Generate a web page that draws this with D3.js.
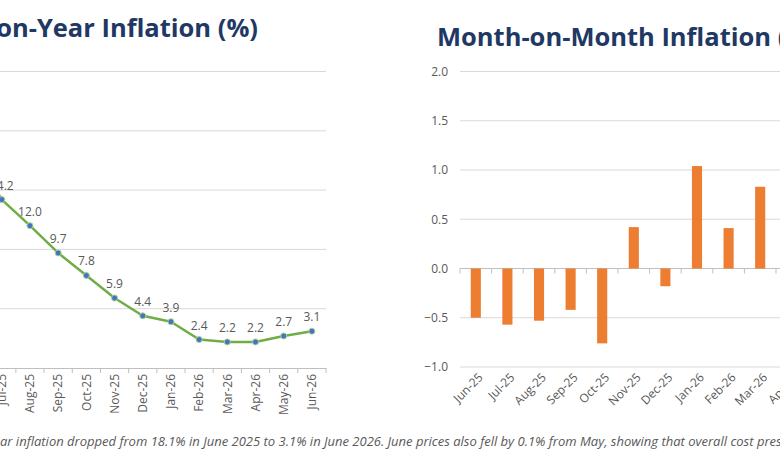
<!DOCTYPE html>
<html>
<head>
<meta charset="utf-8">
<script src="https://cdn.jsdelivr.net/npm/d3@7"></script>
<style>
  body { margin: 0; background: #fff; }
  svg { display: block; overflow: hidden; }
</style>
</head>
<body>
<div id="chart"></div>
<script>
var months = ["Jun-25", "Jul-25", "Aug-25", "Sep-25", "Oct-25", "Nov-25", "Dec-25",
  "Jan-26", "Feb-26", "Mar-26", "Apr-26", "May-26", "Jun-26"];
var yoyValues = [18.1, 14.2, 12.0, 9.7, 7.8, 5.9, 4.4, 3.9, 2.4, 2.2, 2.2, 2.7, 3.1];
var momValues = [-0.50, -0.57, -0.53, -0.42, -0.76, 0.42, -0.18, 1.04, 0.41, 0.83, 0.30, 0.50, -0.10];
var yoyTicks = [0, 5, 10, 15, 20, 25];
var momTicks = [-1.0, -0.5, 0.0, 0.5, 1.0, 1.5, 2.0];
var yoyTitle = "Year-on-Year Inflation (%)";
var momTitle = "Month-on-Month Inflation (%)";
var captionText = "Year-on-year inflation dropped from 18.1% in June 2025 to 3.1% in June 2026. June prices also fell by 0.1% from May, showing that overall cost pressures are easing.";

var svgWidth = 780;
var svgHeight = 470;

var gridColor = "#d9d9d9";
var axisColor = "#bfbfbf";
var textColor = "#595959";
var titleColor = "#1f3864";
var font = "'Open Sans', 'Noto Sans', sans-serif";

var svg = d3.select("#chart")
  .append("svg")
  .attr("width", svgWidth)
  .attr("height", svgHeight)
  .style("font-family", font);

// ---- left chart: year-on-year line ----
var yoyX = d3.scaleBand().domain(months).range([-40.5, 326]);
var yoyY = d3.scaleLinear().domain([0, 25]).range([368, 71.5]);

var left = svg.append("g");

left.selectAll("line.grid")
  .data(yoyTicks.slice(1))
  .enter()
  .append("line")
  .attr("class", "grid")
  .attr("x1", yoyX.range()[0])
  .attr("x2", yoyX.range()[1])
  .attr("y1", d => yoyY(d))
  .attr("y2", d => yoyY(d))
  .attr("stroke", gridColor)
  .attr("stroke-width", 1);

var yoyAxis = left.append("g")
  .attr("transform", `translate(0, ${yoyY(0)})`)
  .call(d3.axisBottom(yoyX).tickSize(0).tickSizeOuter(0));
yoyAxis.select(".domain").attr("stroke", axisColor);
yoyAxis.selectAll("text")
  .attr("fill", textColor)
  .style("font-size", "12px")
  .style("font-family", font)
  .attr("text-anchor", "end")
  .attr("transform", "rotate(-90)")
  .attr("x", -6)
  .attr("y", 0)
  .attr("dy", "0.35em");

left.selectAll("line.btick")
  .data(months.concat(["end"]))
  .enter()
  .append("line")
  .attr("class", "btick")
  .attr("x1", (d, i) => yoyX.range()[0] + i * yoyX.step())
  .attr("x2", (d, i) => yoyX.range()[0] + i * yoyX.step())
  .attr("y1", yoyY(0))
  .attr("y2", yoyY(0) + 5)
  .attr("stroke", axisColor);

var yoyPoints = months.map((m, i) => ({ month: m, value: yoyValues[i] }));

var line = d3.line()
  .x(d => yoyX(d.month) + yoyX.bandwidth() / 2)
  .y(d => yoyY(d.value));

left.append("path")
  .datum(yoyPoints)
  .attr("d", line)
  .attr("fill", "none")
  .attr("stroke", "#70ad47")
  .attr("stroke-width", 2.5)
  .attr("stroke-linejoin", "round");

left.selectAll("circle")
  .data(yoyPoints)
  .enter()
  .append("circle")
  .attr("cx", d => yoyX(d.month) + yoyX.bandwidth() / 2)
  .attr("cy", d => yoyY(d.value))
  .attr("r", 3)
  .attr("fill", "#4472c4")
  .attr("stroke", "#a9d18e")
  .attr("stroke-width", 1);

left.selectAll("text.lbl")
  .data(yoyPoints)
  .enter()
  .append("text")
  .attr("class", "lbl")
  .attr("x", d => yoyX(d.month) + yoyX.bandwidth() / 2)
  .attr("y", d => yoyY(d.value) - 10)
  .attr("text-anchor", "middle")
  .attr("fill", textColor)
  .style("font-size", "12px")
  .text(d => d.value.toFixed(1));

left.append("text")
  .attr("x", 258)
  .attr("y", 37)
  .attr("text-anchor", "end")
  .attr("fill", titleColor)
  .style("font-size", "25.5px")
  .style("font-weight", 700)
  .text(yoyTitle);

// ---- right chart: month-on-month bars ----
var momX = d3.scaleBand().domain(months).range([460, 460 + 13 * 31.6]);
var momY = d3.scaleLinear().domain([-1, 2]).range([367, 71.5]);

var right = svg.append("g");

right.selectAll("line.grid")
  .data(momTicks)
  .enter()
  .append("line")
  .attr("class", "grid")
  .attr("x1", momX.range()[0])
  .attr("x2", momX.range()[1])
  .attr("y1", d => momY(d))
  .attr("y2", d => momY(d))
  .attr("stroke", d => d === 0 ? axisColor : gridColor)
  .attr("stroke-width", 1);

var momAxisY = right.append("g")
  .attr("transform", `translate(${momX.range()[0]}, 0)`)
  .call(d3.axisLeft(momY).tickValues(momTicks).tickFormat(d3.format(".1f")).tickSize(0).tickPadding(12));
momAxisY.select(".domain").remove();
momAxisY.selectAll("text")
  .attr("fill", textColor)
  .style("font-size", "12px")
  .style("font-family", font);

right.selectAll("line.btick")
  .data(months.concat(["end"]))
  .enter()
  .append("line")
  .attr("class", "btick")
  .attr("x1", (d, i) => momX.range()[0] + i * momX.step())
  .attr("x2", (d, i) => momX.range()[0] + i * momX.step())
  .attr("y1", momY(0))
  .attr("y2", momY(0) + 5)
  .attr("stroke", axisColor);

var momBars = months.map((m, i) => ({ month: m, value: momValues[i] }));
var barW = momX.bandwidth() * 0.32;

right.selectAll("rect")
  .data(momBars)
  .enter()
  .append("rect")
  .attr("x", d => momX(d.month) + (momX.bandwidth() - barW) / 2)
  .attr("y", d => momY(Math.max(0, d.value)))
  .attr("width", barW)
  .attr("height", d => Math.abs(momY(d.value) - momY(0)))
  .attr("fill", "#ed7d31");

var momAxisX = right.append("g")
  .attr("transform", `translate(0, ${momY(-1) + 6})`)
  .call(d3.axisBottom(momX).tickSize(0).tickSizeOuter(0));
momAxisX.select(".domain").remove();
momAxisX.selectAll("text")
  .attr("fill", textColor)
  .style("font-size", "12px")
  .style("font-family", font)
  .attr("text-anchor", "end")
  .attr("transform", "rotate(-45)")
  .attr("x", 2)
  .attr("y", 5)
  .attr("dy", "0.35em");

right.append("text")
  .attr("x", 437)
  .attr("y", 46)
  .attr("fill", titleColor)
  .style("font-size", "25.5px")
  .style("font-weight", 700)
  .text(momTitle);

// ---- caption ----
var caption = svg.append("text")
  .attr("y", 446)
  .attr("fill", textColor)
  .style("font-size", "13px")
  .style("font-style", "italic")
  .text(captionText);
var cut = caption.node().getSubStringLength(0, 10);
caption.attr("x", -cut);
</script>
</body>
</html>
